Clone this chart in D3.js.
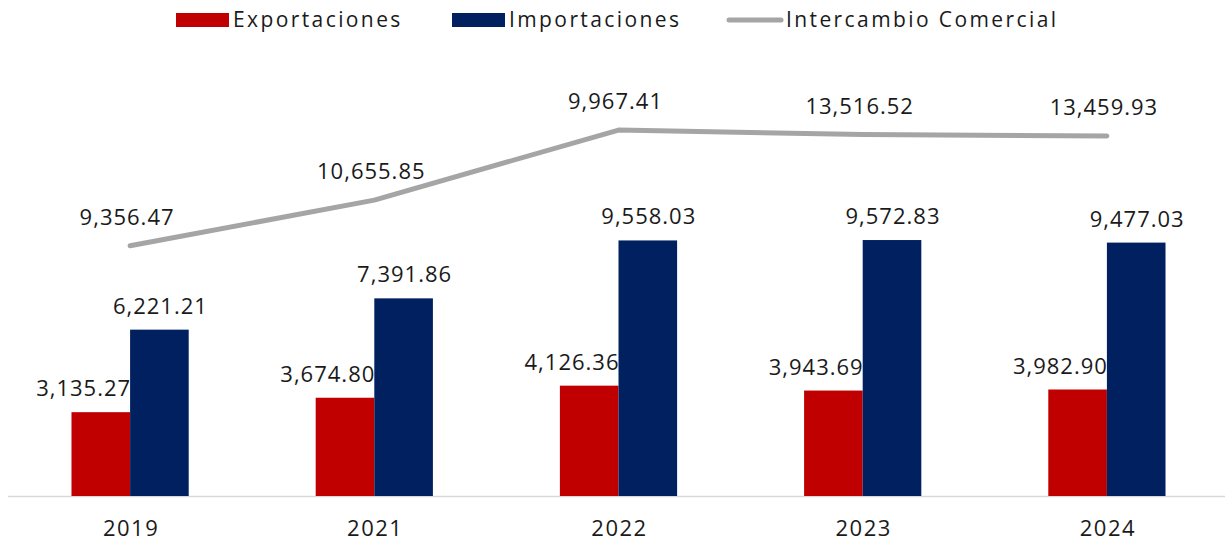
<!DOCTYPE html>
<html lang="es">
<head>
    <meta charset="UTF-8">
    <script src="https://d3js.org/d3.v7.min.js"></script>
    <style>
        body { margin: 0; background: #fff; }
        text { font-family: "Open Sans", "DejaVu Sans", sans-serif; fill: #1a1a1a; }
    </style>
</head>
<body>
    <script>
        // data
        var years = ["2019", "2021", "2022", "2023", "2024"]
        var exportaciones = [3135.27, 3674.80, 4126.36, 3943.69, 3982.90]
        var importaciones = [6221.21, 7391.86, 9558.03, 9572.83, 9477.03]
        var intercambio = [9356.48, 11066.66, 13684.39, 13516.52, 13459.93]
        // labels as printed in the original chart
        var intercambioLabels = ["9,356.47", "10,655.85", "9,967.41", "13,516.52", "13,459.93"]

        var width = 1225, height = 544
        var baseY = 496

        var svg = d3.select("body").append("svg")
            .attr("width", width)
            .attr("height", height)

        var x0 = d3.scaleBand().domain(years).range([8, 1229]).padding(0)
        var bw = x0.bandwidth()
        var x1 = d3.scaleBand().domain(["exp", "imp"]).range([bw * 0.26, bw * 0.74])
        var y = d3.scaleLinear().domain([0, 18550]).range([baseY, 0])

        var fmt = d3.format(",.2f")

        // axis line
        svg.append("line")
            .attr("x1", 8).attr("x2", 1225)
            .attr("y1", baseY + 0.5).attr("y2", baseY + 0.5)
            .attr("stroke", "#d9d9d9").attr("stroke-width", 1.5)

        var rows = years.map(function (d, i) {
            return { year: d, exp: exportaciones[i], imp: importaciones[i], tot: intercambio[i], lab: intercambioLabels[i] }
        })

        var colors = { exp: "#c00000", imp: "#002060" }

        var g = svg.selectAll("g.year")
            .data(rows)
            .join("g")
            .attr("class", "year")
            .attr("transform", function (d) { return "translate(" + x0(d.year) + ",0)" })

        g.selectAll("rect")
            .data(function (d) { return [{ k: "exp", v: d.exp }, { k: "imp", v: d.imp }] })
            .join("rect")
            .attr("x", function (d) { return x1(d.k) })
            .attr("y", function (d) { return y(d.v) })
            .attr("width", x1.bandwidth())
            .attr("height", function (d) { return baseY - y(d.v) })
            .attr("fill", function (d) { return colors[d.k] })

        // export labels sit left, ending at the group center
        g.append("text")
            .attr("x", bw / 2 + 1)
            .attr("y", function (d) { return y(d.exp) - 16 })
            .attr("text-anchor", "end")
            .attr("font-size", 22)
            .attr("letter-spacing", 1)
            .text(function (d) { return fmt(d.exp) })

        g.append("text")
            .attr("x", x1("imp") + x1.bandwidth() / 2 + 1)
            .attr("y", function (d) { return y(d.imp) - 16 })
            .attr("text-anchor", "middle")
            .attr("font-size", 22)
            .attr("letter-spacing", 1)
            .text(function (d) { return fmt(d.imp) })

        // year labels
        g.append("text")
            .attr("x", bw / 2 + 1)
            .attr("y", 536)
            .attr("text-anchor", "middle")
            .attr("font-size", 22)
            .attr("letter-spacing", 1.5)
            .text(function (d) { return d.year })

        // intercambio line
        var line = d3.line()
            .x(function (d) { return x0(d.year) + bw / 2 })
            .y(function (d) { return y(d.tot) })

        svg.append("path")
            .datum(rows)
            .attr("d", line)
            .attr("fill", "none")
            .attr("stroke", "#a5a5a5")
            .attr("stroke-width", 5)
            .attr("stroke-linecap", "round")
            .attr("stroke-linejoin", "round")

        svg.selectAll("text.tot")
            .data(rows)
            .join("text")
            .attr("class", "tot")
            .attr("x", function (d) { return x0(d.year) + bw / 2 - 3 })
            .attr("y", function (d) { return y(d.tot) - 21 })
            .attr("text-anchor", "middle")
            .attr("font-size", 22)
            .attr("letter-spacing", 1)
            .text(function (d) { return d.lab })

        // legend
        var legend = [
            { name: "Exportaciones", type: "rect", color: "#c00000", x: 176 },
            { name: "Importaciones", type: "rect", color: "#002060", x: 452 },
            { name: "Intercambio Comercial", type: "line", color: "#a5a5a5", x: 727 }
        ]
        var lg = svg.selectAll("g.legend")
            .data(legend)
            .join("g")
            .attr("class", "legend")
            .attr("transform", function (d) { return "translate(" + d.x + ",20)" })

        lg.filter(function (d) { return d.type === "rect" })
            .append("rect")
            .attr("x", 0).attr("y", -7)
            .attr("width", 53).attr("height", 14)
            .attr("fill", function (d) { return d.color })

        lg.filter(function (d) { return d.type === "line" })
            .append("line")
            .attr("x1", 2).attr("x2", 54)
            .attr("y1", 0).attr("y2", 0)
            .attr("stroke", function (d) { return d.color })
            .attr("stroke-width", 5)
            .attr("stroke-linecap", "round")

        lg.append("text")
            .attr("x", function (d) { return d.type === "rect" ? 57 : 59 })
            .attr("y", 7)
            .attr("font-size", 21)
            .attr("letter-spacing", 2.4)
            .text(function (d) { return d.name })
    </script>
</body>
</html>
